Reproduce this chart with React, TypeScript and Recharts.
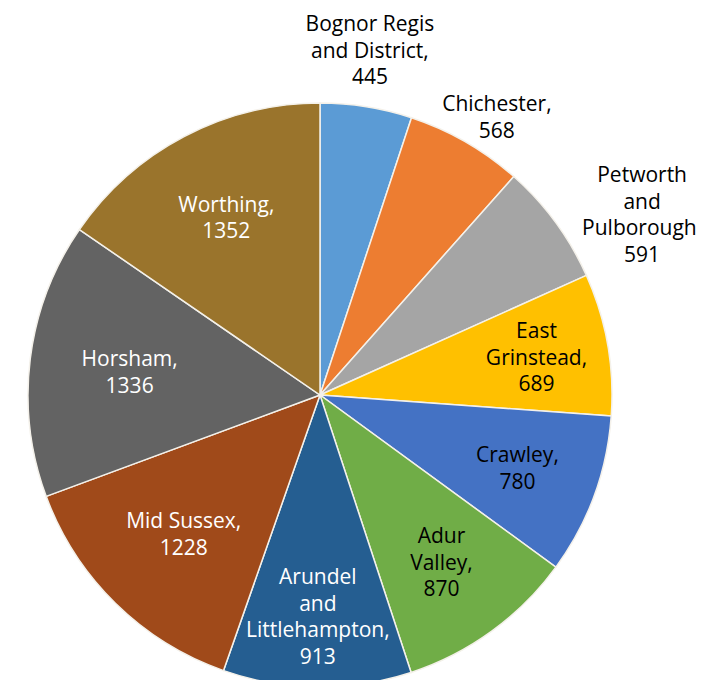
import React from "react";
import { PieChart, Pie, Cell } from "recharts";

const categories = [
  "Bognor Regis and District",
  "Chichester",
  "Petworth and Pulborough",
  "East Grinstead",
  "Crawley",
  "Adur Valley",
  "Arundel and Littlehampton",
  "Mid Sussex",
  "Horsham",
  "Worthing",
];
const values = [445, 568, 591, 689, 780, 870, 913, 1228, 1336, 1352];
const labelLines = [
  ["Bognor Regis", "and District,"],
  ["Chichester,"],
  ["Petworth", "and", "Pulborough,"],
  ["East", "Grinstead,"],
  ["Crawley,"],
  ["Adur", "Valley,"],
  ["Arundel", "and", "Littlehampton,"],
  ["Mid Sussex,"],
  ["Horsham,"],
  ["Worthing,"],
];

const colors = [
  "#5B9BD5", "#ED7D31", "#A5A5A5", "#FFC000", "#4472C4",
  "#70AD47", "#255E91", "#A04A1A", "#636363", "#9A742C",
];
const labelColors = [
  "#000", "#000", "#000", "#000", "#000",
  "#000", "#fff", "#fff", "#fff", "#fff",
];
const labelRadius = [1.194, 1.13, 1.265, 0.753, 0.72, 0.707, 0.757, 0.666, 0.657, 0.689];
const labelAngleShift = [-0.9, 2.5, 7, 0, 0, 0, 0, 0, 0, 0];

const data = categories.map((name, i) => ({ name, value: values[i] }));

const RAD = Math.PI / 180;
const LINE = 26.5;

const renderLabel = (props: any) => {
  const { cx, cy, midAngle, outerRadius, index, value } = props;
  const a = (midAngle - labelAngleShift[index]) * RAD;
  const r = outerRadius * labelRadius[index];
  const x = cx + r * Math.cos(a);
  const y = cy - r * Math.sin(a);
  const lines = [...labelLines[index], String(value)];
  const startDy = -((lines.length - 1) / 2) * LINE;
  return (
    <text
      x={x}
      y={y}
      textAnchor="middle"
      dominantBaseline="central"
      fill={labelColors[index]}
      fontSize={21}
      fontFamily="'Open Sans', Lato, sans-serif"
    >
      {lines.map((l, k) => (
        <tspan key={k} x={x} dy={k === 0 ? startDy : LINE}>
          {l}
        </tspan>
      ))}
    </text>
  );
};

export default function App() {
  return (
    <div style={{ margin: -8, width: 704, height: 688, background: "#fff" }}>
      <PieChart width={704} height={688} margin={{ top: 0, right: 0, bottom: 0, left: 0 }}>
        <Pie
          data={data}
          dataKey="value"
          nameKey="name"
          cx={320}
          cy={395}
          outerRadius={292}
          startAngle={90}
          endAngle={-270}
          stroke="#F4F1EA"
          strokeWidth={1.5}
          label={renderLabel}
          labelLine={false}
          isAnimationActive={false}
        >
          {data.map((d, i) => (
            <Cell key={d.name} fill={colors[i]} />
          ))}
        </Pie>
      </PieChart>
    </div>
  );
}
